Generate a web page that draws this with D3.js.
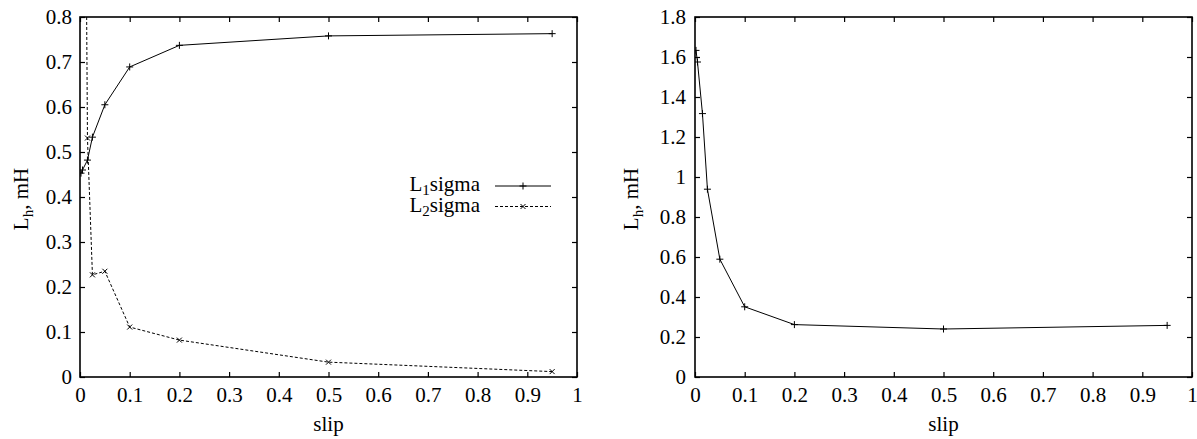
<!DOCTYPE html>
<html><head><meta charset="utf-8">
<script src="https://cdn.jsdelivr.net/npm/d3@7"></script>
<style>body{margin:0;background:#fff}svg{display:block}</style>
</head><body>
<svg id="c" width="1197" height="439"></svg>
<script>
const slip = [0.002, 0.005, 0.015, 0.025, 0.05, 0.1, 0.2, 0.5, 0.95];
const L1sigma = [0.453, 0.460, 0.482, 0.533, 0.605, 0.689, 0.737, 0.758, 0.763];
const L2sigma = [4.0, 2.2, 0.531, 0.227, 0.235, 0.111, 0.082, 0.033, 0.012];
const Lh = [1.633, 1.575, 1.317, 0.939, 0.589, 0.351, 0.262, 0.240, 0.258];
const xTicks = [0, 0.1, 0.2, 0.3, 0.4, 0.5, 0.6, 0.7, 0.8, 0.9, 1];
const yTicksLeft = [0, 0.1, 0.2, 0.3, 0.4, 0.5, 0.6, 0.7, 0.8];
const yTicksRight = [0, 0.2, 0.4, 0.6, 0.8, 1, 1.2, 1.4, 1.6, 1.8];
const legendLabels = [["L","1","sigma"],["L","2","sigma"]];

const svg = d3.select("#c");
const FONT = "Liberation Serif";
const FS = 21;
const SUB = 15;
const fmt = d => String(+(+d).toFixed(2));
function tx(sel){ return sel.style("font-family", FONT).style("font-size", FS+"px").attr("fill","#000"); }

function panel(opts){
  const x = d3.scaleLinear().domain([0,1]).range([opts.x0, opts.x1]);
  const y = d3.scaleLinear().domain([0, opts.ymax]).range([377, 17]);
  const g = svg.append("g");
  const id = "clip" + opts.x0;
  svg.append("clipPath").attr("id", id).append("rect")
    .attr("x", opts.x0).attr("y", 17).attr("width", opts.x1-opts.x0).attr("height", 360);
  const tick = 5;
  g.append("g").attr("transform","translate(0,377)")
    .call(d3.axisBottom(x).tickValues(xTicks).tickSize(-tick).tickPadding(10).tickFormat(fmt));
  g.append("g").attr("transform","translate(0,17)")
    .call(d3.axisTop(x).tickValues(xTicks).tickSize(-tick).tickFormat(""));
  g.append("g").attr("transform",`translate(${opts.x0},0)`)
    .call(d3.axisLeft(y).tickValues(opts.yTicks).tickSize(-tick).tickPadding(opts.pad).tickFormat(fmt));
  g.append("g").attr("transform",`translate(${opts.x1},0)`)
    .call(d3.axisRight(y).tickValues(opts.yTicks).tickSize(-tick).tickFormat(""));
  g.selectAll(".domain").remove();
  g.selectAll(".tick line").attr("stroke","#000").attr("stroke-width",1.2);
  tx(g.selectAll(".tick text"));
  g.append("rect").attr("x",opts.x0).attr("y",17).attr("width",opts.x1-opts.x0).attr("height",360)
    .attr("fill","none").attr("stroke","#000").attr("stroke-width",1.6);
  tx(g.append("text").attr("x",(opts.x0+opts.x1)/2).attr("y",431).attr("text-anchor","middle")).text("slip");
  const yl = tx(g.append("text").attr("transform",`translate(${opts.ylx},199) rotate(-90)`)
    .attr("text-anchor","middle"));
  yl.append("tspan").text("L");
  yl.append("tspan").attr("dy",5).style("font-size",SUB+"px").text("h");
  yl.append("tspan").attr("dy",-5).text(", mH");
  const pg = g.append("g").attr("clip-path",`url(#${id})`);
  return {x, y, g, pg};
}

function plus(x,y,s){return `M${x-s},${y}H${x+s}M${x},${y-s}V${y+s}`;}
function cross(x,y,s){return `M${x-s},${y-s}L${x+s},${y+s}M${x-s},${y+s}L${x+s},${y-s}`;}

function series(p, vals, dash, marker, ms){
  const data = slip.map((s,i)=>[s, vals[i]]);
  p.pg.append("path").datum(data)
    .attr("d", d3.line().x(d=>p.x(d[0])).y(d=>p.y(d[1])))
    .attr("fill","none").attr("stroke","#000").attr("stroke-width",1)
    .attr("stroke-dasharray", dash);
  p.pg.selectAll(null).data(data).enter().append("path")
    .attr("d", d=>marker(p.x(d[0]), p.y(d[1]), ms))
    .attr("stroke","#000").attr("stroke-width",1).attr("fill","none");
}

const left = panel({x0:80, x1:577, ymax:0.8, yTicks:yTicksLeft, ylx:28, pad:8});
series(left, L1sigma, null, plus, 3.5);
series(left, L2sigma, "3,2", cross, 2.5);

const legY = [186, 206.5];
legendLabels.forEach((lab,i)=>{
  const t = tx(left.g.append("text").attr("x",480).attr("y",legY[i]+5).attr("text-anchor","end"));
  t.append("tspan").text(lab[0]);
  t.append("tspan").attr("dy",4).style("font-size",SUB+"px").text(lab[1]);
  t.append("tspan").attr("dy",-4).text(lab[2]);
  left.g.append("line").attr("x1",495).attr("x2",551).attr("y1",legY[i]).attr("y2",legY[i])
    .attr("stroke","#000").attr("stroke-width",1).attr("stroke-dasharray", i===0?null:"3,2");
  left.g.append("path").attr("d", (i===0?plus:cross)(523, legY[i], i===0?3.5:2.5))
    .attr("stroke","#000").attr("fill","none");
});

const right = panel({x0:695, x1:1192, ymax:1.8, yTicks:yTicksRight, ylx:638, pad:9});
series(right, Lh, null, plus, 3.5);
</script>
</body></html>
